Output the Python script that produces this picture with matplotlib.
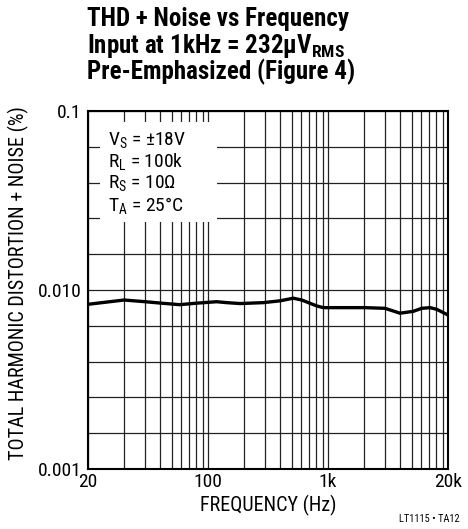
import matplotlib
matplotlib.use("Agg")
import matplotlib.pyplot as plt
import matplotlib.ticker as mticker
from matplotlib.patches import Rectangle
import numpy as np

# Axis positions (grid drawn as 10..10k decades, labelled 20/100/1k/20k like the datasheet)
freq = [10, 20, 30, 41, 58, 80, 118, 143, 185, 289, 398, 514, 604, 805, 914,
        2030, 2985, 3981, 5140, 6040, 7080, 8050, 10000]
thdn = [0.00832, 0.00879, 0.0086, 0.00844, 0.00828, 0.00844, 0.0086, 0.0085, 0.0084,
        0.0085, 0.0087, 0.0090, 0.00879, 0.00815, 0.00797, 0.00797, 0.0079, 0.00742,
        0.0076, 0.0079, 0.00797, 0.0078, 0.00725]
xtick_pos = [10, 100, 1000, 10000]
xtick_labels = ["20", "100", "1k", "20k"]
ytick_pos = [0.001, 0.01, 0.1]
ytick_labels = ["0.001", "0.010", "0.1"]
conditions = [r"V$_\mathregular{S}$ = ±18V", r"R$_\mathregular{L}$ = 100k",
              r"R$_\mathregular{S}$ = 10Ω", r"T$_\mathregular{A}$ = 25°C"]
title_lines = ["THD + Noise vs Frequency",
               r"Input at 1kHz = 232μV$_\mathbf{RMS}$",
               "Pre-Emphasized (Figure 4)"]

FONT = ["Roboto Condensed", "DejaVu Sans"]
plt.rcParams["font.family"] = FONT
plt.rcParams["mathtext.fontset"] = "custom"
plt.rcParams["mathtext.rm"] = "Roboto Condensed"
plt.rcParams["mathtext.bf"] = "Roboto Condensed:bold"

W, H = 468, 529
fig = plt.figure(figsize=(W / 100, H / 100), dpi=100)
L, R, T, B = 88, 448, 111, 469
ax = fig.add_axes([L / W, 1 - B / H, (R - L) / W, (B - T) / H])

ax.set_xscale("log")
ax.set_yscale("log")
ax.set_xlim(10, 10000)
ax.set_ylim(0.001, 0.1)

ax.xaxis.set_major_locator(mticker.FixedLocator(xtick_pos))
ax.xaxis.set_major_formatter(mticker.FixedFormatter(xtick_labels))
ax.xaxis.set_minor_locator(mticker.LogLocator(base=10, subs=np.arange(2, 10)))
ax.xaxis.set_minor_formatter(mticker.NullFormatter())
ax.yaxis.set_major_locator(mticker.FixedLocator(ytick_pos))
ax.yaxis.set_major_formatter(mticker.FixedFormatter(ytick_labels))
ax.yaxis.set_minor_locator(mticker.FixedLocator([10 ** (-3 + 0.2 * k) for k in range(11)]))
ax.yaxis.set_minor_formatter(mticker.NullFormatter())

ax.grid(True, which="both", color="#222222", linewidth=0.9)
ax.set_axisbelow(True)
ax.tick_params(which="both", length=0, labelsize=14)
ax.tick_params(axis="y", pad=4.5)
ax.tick_params(axis="x", pad=3)
for s in ax.spines.values():
    s.set_linewidth(1.5)

ax.plot(freq, thdn, color="black", linewidth=2.4, zorder=3, solid_capstyle="butt")

# white box behind the conditions
ax.add_patch(Rectangle((0.033, 0.690), 0.325, 0.279, transform=ax.transAxes,
                       facecolor="white", edgecolor="none", zorder=2))
for i, c in enumerate(conditions):
    ax.text(0.055, 0.918 - i * 0.061, c, transform=ax.transAxes, fontsize=14,
            va="center", ha="left", zorder=4)

ax.set_xlabel("FREQUENCY (Hz)", fontsize=14.5, labelpad=3)
fig.text(18.5 / W, 1 - 283 / H, "TOTAL HARMONIC DISTORTION + NOISE (%)", rotation=90,
         fontsize=14.5, va="center", ha="center")

for i, (line, yb) in enumerate(zip(title_lines, [26, 53, 79])):
    fig.text(87 / W, 1 - yb / H, line, fontsize=18, fontweight="bold",
             va="baseline", ha="left")

fig.text(460 / W, 1 - 519 / H, "LT1115 • TA12", fontsize=7.5, ha="right", va="center")

fig.savefig("out.png", dpi=100)
